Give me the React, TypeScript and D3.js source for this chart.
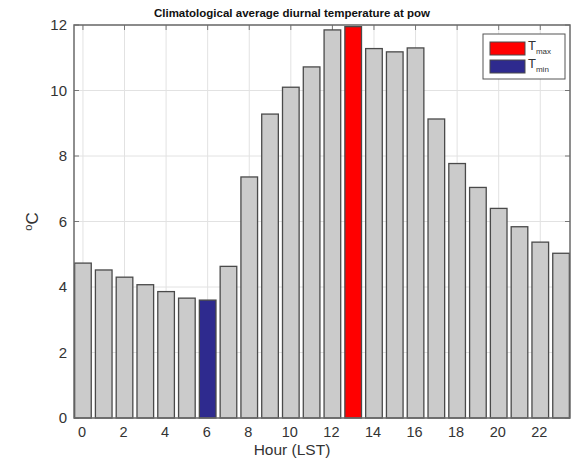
import React from "react";
import * as d3 from "d3";

const hours: number[] = d3.range(0, 24);
const temps: number[] = [4.73, 4.52, 4.3, 4.07, 3.86, 3.66, 3.6, 4.63, 7.36, 9.28, 10.1, 10.72, 11.85, 11.95, 11.28, 11.18, 11.3, 9.13, 7.77, 7.04, 6.4, 5.84, 5.37, 5.03];
const xTicks: number[] = [0, 2, 4, 6, 8, 10, 12, 14, 16, 18, 20, 22];
const yTicks: number[] = [0, 2, 4, 6, 8, 10, 12];
const maxHour = 13;
const minHour = 6;

const W = 577, H = 460;
const L = 74, R = 570, T = 25, B = 418;
const font = "Liberation Sans, Arial, Helvetica, sans-serif";

export default function App() {
  const x = d3.scaleLinear().domain([-0.43, 23.43]).range([L, R]);
  const y = d3.scaleLinear().domain([0, 12]).range([B, T]);
  const bw = x(0.8) - x(0);
  return (
    <svg width={W} height={H} style={{ position: "absolute", left: 0, top: 0 }} fontFamily={font}>
      <rect x={0} y={0} width={W} height={H} fill="#fff" />
      <rect x={L} y={T} width={R - L} height={B - T} fill="#fff" />
      {xTicks.map((t) => (
        <line key={"gx" + t} x1={x(t)} x2={x(t)} y1={T} y2={B} stroke="#e2e2e2" strokeWidth={1} />
      ))}
      {yTicks.map((t) => (
        <line key={"gy" + t} x1={L} x2={R} y1={y(t)} y2={y(t)} stroke="#e2e2e2" strokeWidth={1} />
      ))}
      {xTicks.map((t) => (
        <g key={"tx" + t}>
          <line x1={x(t)} x2={x(t)} y1={B} y2={B - 5} stroke="#777" />
          <line x1={x(t)} x2={x(t)} y1={T} y2={T + 5} stroke="#777" />
        </g>
      ))}
      {yTicks.map((t) => (
        <g key={"ty" + t}>
          <line x1={L} x2={L + 5} y1={y(t)} y2={y(t)} stroke="#777" />
          <line x1={R} x2={R - 5} y1={y(t)} y2={y(t)} stroke="#777" />
        </g>
      ))}
      {hours.map((h, i) => {
        const fill = h === maxHour ? "#ff0000" : h === minHour ? "#2e2a8e" : "#cbcbcb";
        return (
          <rect
            key={"b" + h}
            x={x(h) - bw / 2}
            y={y(temps[i])}
            width={bw}
            height={y(0) - y(temps[i])}
            fill={fill}
            stroke="#4a4a4a"
            strokeWidth={1.3}
          />
        );
      })}
      <rect x={L} y={T} width={R - L} height={B - T} fill="none" stroke="#6a6a6a" strokeWidth={1.5} />
      {xTicks.map((t) => (
        <text key={"lx" + t} x={x(t) - 1} y={437} textAnchor="middle" fontSize={14.5} fill="#333">
          {t}
        </text>
      ))}
      {yTicks.map((t) => (
        <text key={"ly" + t} x={67} y={y(t) + 5} textAnchor="end" fontSize={15} fill="#333">
          {t}
        </text>
      ))}
      <text x={292} y={455} textAnchor="middle" fontSize={15.5} fill="#333">
        Hour (LST)
      </text>
      <text transform={`translate(38,${(T + B) / 2}) rotate(-90)`} textAnchor="middle" fontSize={17} fill="#333">
        <tspan fontSize={11} dy={-6}>o</tspan>
        <tspan dy={6}>C</tspan>
      </text>
      <text x={292} y={17} textAnchor="middle" fontSize={11.5} fontWeight="bold" fill="#111">
        Climatological average diurnal temperature at pow
      </text>
      <g>
        <rect x={483} y={34} width={82} height={45} fill="#fff" stroke="#555" strokeWidth={1} />
        <rect x={490} y={42} width={35} height={13} fill="#ff0000" stroke="#4a4a4a" strokeWidth={1} />
        <rect x={490} y={60} width={35} height={13} fill="#2e2a8e" stroke="#4a4a4a" strokeWidth={1} />
        <text x={528} y={50} fontSize={13} fill="#333">
          T<tspan fontSize={8} dy={4}>max</tspan>
        </text>
        <text x={528} y={68} fontSize={13} fill="#333">
          T<tspan fontSize={8} dy={4}>min</tspan>
        </text>
      </g>
    </svg>
  );
}
